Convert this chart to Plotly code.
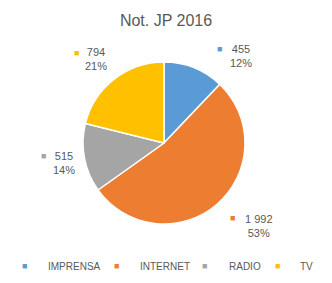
import plotly.graph_objects as go

categories = ["IMPRENSA", "INTERNET", "RADIO", "TV"]
values = [455, 1992, 515, 794]
colors = ["#5B9BD5", "#ED7D31", "#A5A5A5", "#FFC000"]
title = "Not. JP 2016"

W, H = 332, 283
FONT = "Liberation Sans"
TXT = "#595959"

def fmt(v):
    return f"{v:,}".replace(",", " ")

total = sum(values)
pcts = [round(v / total * 100) for v in values]

fig = go.Figure()
fig.add_trace(go.Pie(
    labels=categories, values=values, sort=False, direction="clockwise", rotation=0,
    marker=dict(colors=colors, line=dict(color="white", width=1.5)),
    textinfo="none", hoverinfo="label+value+percent", showlegend=False,
    domain=dict(x=[83 / W, 245 / W], y=[1 - 224 / H, 1 - 62 / H]),
))

# data label placement (pixels): text center x, text center y, key square x, key square y
label_pos = {
    "IMPRENSA": (241, 56, 219, 49),
    "INTERNET": (259, 225.5, 233, 218),
    "RADIO": (63.5, 163, 43, 156),
    "TV": (96, 59.5, 76, 53),
}
# legend placement (pixels): key square x, text left x
legend_pos = {
    "IMPRENSA": (24, 46),
    "INTERNET": (116, 138),
    "RADIO": (204, 227),
    "TV": (277, 298),
}
LEG_Y = 266

def px(x):
    return x / W

def py(y):
    return 1 - y / H

ann = []
for c, v, p, col in zip(categories, values, pcts, colors):
    tx, ty, sx, sy = label_pos[c]
    ann.append(dict(x=px(tx), y=py(ty), xref="paper", yref="paper",
                    text=f"{fmt(v)}<br>{p}%", showarrow=False, align="center",
                    xanchor="center", yanchor="middle",
                    font=dict(family=FONT, size=11, color=TXT)))
    ann.append(dict(x=px(sx), y=py(sy), xref="paper", yref="paper",
                    text="■", showarrow=False, xanchor="center", yanchor="middle",
                    font=dict(family=FONT, size=9, color=col)))
    lx, ltx = legend_pos[c]
    ann.append(dict(x=px(lx), y=py(LEG_Y), xref="paper", yref="paper",
                    text="■", showarrow=False, xanchor="center", yanchor="middle",
                    font=dict(family=FONT, size=9, color=col)))
    ann.append(dict(x=px(ltx), y=py(LEG_Y), xref="paper", yref="paper",
                    text=c, showarrow=False, xanchor="left", yanchor="middle",
                    font=dict(family=FONT, size=10, color=TXT)))

fig.update_layout(
    width=W, height=H, margin=dict(l=0, r=0, t=0, b=0),
    paper_bgcolor="white", plot_bgcolor="white",
    title=dict(text=title, x=0.5, xanchor="center", y=py(20), yanchor="middle",
               font=dict(family=FONT, size=16, color=TXT)),
    showlegend=False,
    annotations=ann,
)

fig.write_html("out.html")
